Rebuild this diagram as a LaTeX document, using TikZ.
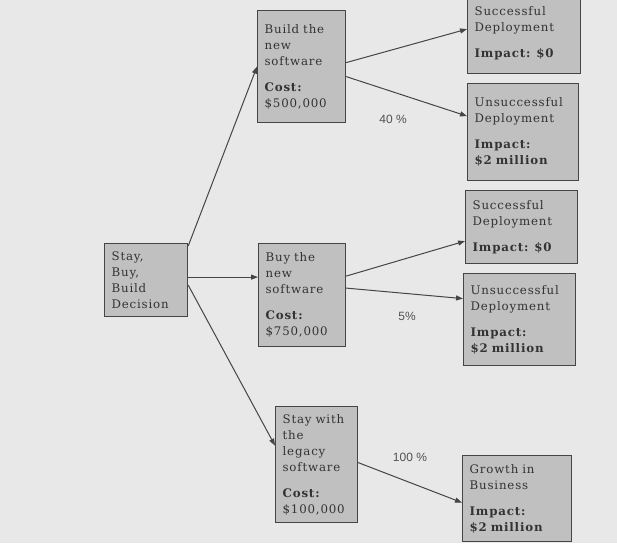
\documentclass[tikz,border=0pt]{standalone}
\usepackage{fontspec}
\setmainfont{DejaVu Serif}[LetterSpace=7]
\newfontfamily\pctfont{Liberation Sans}
\usetikzlibrary{arrows.meta}

\definecolor{paper}{HTML}{E8E8E8}
\definecolor{boxgray}{HTML}{C0C0C0}
\definecolor{edgegray}{HTML}{454545}
\definecolor{inkgray}{HTML}{333333}

\tikzset{
    choice/.style 2 args={draw=edgegray, line width=1.2pt, fill=boxgray,
        anchor=north west, align=left, inner xsep=7pt, inner ysep=4pt,
        text=inkgray, text width=#1, minimum height=#2,
        font=\fontsize{11.8}{16}\selectfont},
    branch/.style={draw=edgegray, line width=1pt, -{Triangle[length=7pt,width=5pt]}},
    pct/.style={text=inkgray!85, font=\pctfont\fontsize{12}{14}\selectfont}
}

\begin{document}
\begin{tikzpicture}[x=1pt,y=-1pt]
    \fill [paper] (0,0) rectangle (617,543);
    \clip (0,0) rectangle (617,543);

    % decision and the three options
    \node [choice={69pt}{73pt}] (decide) at (104,243) {Stay,\\ Buy,\\ Build\\ Decision};
    \node [choice={74pt}{112pt}] (build) at (257,10)
      {Build the\\ new\\ software\\[10pt] \textbf{Cost:}\\ \$500,000};
    \node [choice={73pt}{103pt}] (buy) at (258,243)
      {Buy the\\ new\\ software\\[10pt] \textbf{Cost:}\\ \$750,000};
    \node [choice={68pt}{116pt}] (stay) at (275,406)
      {Stay with\\ the\\ legacy\\ software\\[10pt] \textbf{Cost:}\\ \$100,000};

    % outcomes
    \node [choice={99pt}{81pt}] (succA) at (467,-8)
      {Successful\\ Deployment\\[10pt] \textbf{Impact: \$0}};
    \node [choice={97pt}{97pt}] (unsuccA) at (467,83)
      {Unsuccessful\\ Deployment\\[10pt] \textbf{Impact:}\\ \textbf{\$2 million}};
    \node [choice={98pt}{73pt}] (succB) at (465,190)
      {Successful\\ Deployment\\[10pt] \textbf{Impact: \$0}};
    \node [choice={98pt}{92pt}] (unsuccB) at (463,273)
      {Unsuccessful\\ Deployment\\[10pt] \textbf{Impact:}\\ \textbf{\$2 million}};
    \node [choice={95pt}{86pt}] (growth) at (462,455)
      {Growth in\\ Business\\[10pt] \textbf{Impact:}\\ \textbf{\$2 million}};

    \draw [branch] ([yshift=-3pt]decide.north east) -- (build.west);
    \draw [branch] ([yshift=3pt]decide.east) -- ([yshift=18pt]buy.west);
    \draw [branch] ([yshift=-5pt]decide.east) -- ([yshift=19pt]stay.west);

    \draw [branch] ([yshift=4pt]build.east) -- ([yshift=4pt]succA.west);
    \draw [branch] ([yshift=-10pt]build.east) -- ([yshift=16pt]unsuccA.west);
    \draw [branch] ([yshift=19pt]buy.east) -- ([yshift=-14pt]succB.west);
    \draw [branch] ([yshift=7pt]buy.east) -- ([yshift=21pt]unsuccB.west);
    \draw [branch] ([yshift=2pt]stay.east) -- ([yshift=-4pt]growth.west);

    \node [pct] (pctA) at (393,119) {40 \%};
    \node [pct] (pctB) at (407,316) {5\%};
    \node [pct] (pctC) at (410,457) {100 \%};
\end{tikzpicture}
\end{document}
